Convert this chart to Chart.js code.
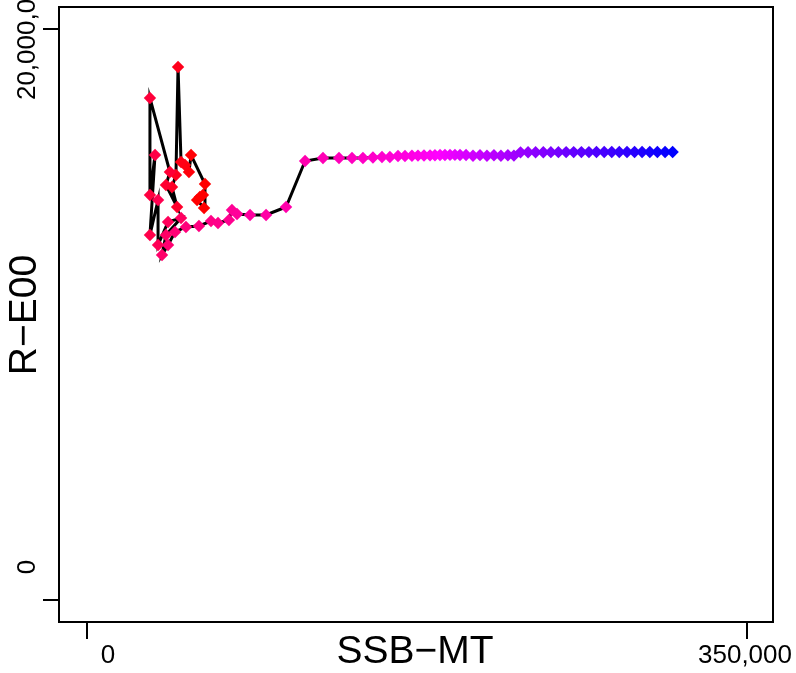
<!DOCTYPE html>
<html>
<head>
<meta charset="utf-8">
<script src="https://cdn.jsdelivr.net/npm/chart.js@4/dist/chart.umd.min.js"></script>
<style>
  html, body { margin: 0; padding: 0; background: #ffffff; }
  #wrap { width: 796px; height: 673px; }
</style>
</head>
<body>
<div id="wrap"><canvas id="srChart" width="796" height="673"></canvas></div>
<script>
// spawning stock biomass (MT) by year, in plotting order
const ssb = [
  59900, 61500, 58400, 62100, 62600, 55200, 54100, 52000, 49900, 48300,
  47200, 45100, 47800, 41900, 44000, 33400, 33400, 36100, 33400, 37700,
  37700, 43000, 49900, 41900, 39800, 43000,
  46700, 52500, 59400, 65800, 69500, 75300, 76900, 79600, 86500, 95000,
  105600,
  115700, 125200, 133700, 140600, 146400, 151700, 156500, 160700, 165000, 168700,
  172400, 175600, 178800, 182000, 184600, 187300, 189900, 192600, 195200, 197900,
  201100, 204800, 208500, 212200, 215900, 219600, 223300, 226500,
  230000, 234000, 238000, 242100, 246100, 250100, 254200, 258200, 262300, 266300,
  270300, 274400, 278400, 282400, 286500, 290500, 294500, 298600, 302600, 306700,
  310700,
];

// recruitment
const rec = [
  14115500, 14185500, 14010400, 13730200, 14570800, 15586600, 14991100, 15236300, 15341400, 18668900,
  14886000, 14465700, 13765200, 14535800, 14991100, 17583000, 14185500, 15586600, 12784500, 14010400,
  12434200, 13239800, 13379900, 12784500, 12084000, 12434200,
  12889600, 13064700, 13099700, 13274900, 13204800, 13309900, 13660100, 13520000, 13485000, 13485000,
  13765200,
  15376400, 15481500, 15481500, 15481500, 15481500, 15500000, 15516500, 15516500, 15551500, 15551500,
  15560000, 15565000, 15570000, 15575000, 15580000, 15585000, 15588000, 15590000, 15590000, 15588000,
  15585000, 15560000, 15582000, 15560000, 15580000, 15562000, 15580000, 15565000,
  15680000, 15682000, 15684000, 15685000, 15686000, 15687000, 15688000, 15688000, 15689000, 15689000,
  15690000, 15690000, 15690000, 15691000, 15691000, 15691000, 15692000, 15692000, 15692000, 15692000,
  15692000,
];

const xTicks = [0, 350000];
const xTickLabels = ["0", "350,000"];
const yTicks = [0, 20000000];
const yTickLabels = ["0", "20,000,000"];

const xTitle = "SSB\u2212MT";
const yTitle = "R\u2212E00";

// red -> magenta -> blue ramp along the years
const redUntil = 4;
const magentaAt = 52;
function rampColor(i, n) {
  let r, b;
  if (i <= redUntil) {
    r = 255;
    b = 0;
  } else if (i <= magentaAt) {
    r = 255;
    b = Math.round(255 * (i - redUntil) / (magentaAt - redUntil));
  } else {
    r = Math.round(255 * (1 - (i - magentaAt) / (n - 1 - magentaAt)));
    b = 255;
  }
  return `rgb(${r},0,${b})`;
}
const pointColors = ssb.map((_v, i) => rampColor(i, ssb.length));

const font = "'Liberation Sans', Arial, Helvetica, sans-serif";

const rAxes = {
  id: "rAxes",
  afterDraw(chart) {
    const { ctx, chartArea: a } = chart;
    const xs = chart.scales.x;
    const ys = chart.scales.y;
    ctx.save();
    ctx.strokeStyle = "#000";
    ctx.fillStyle = "#000";
    ctx.lineWidth = 2;
    ctx.strokeRect(a.left, a.top, a.right - a.left, a.bottom - a.top);

    // x ticks
    ctx.font = `26px ${font}`;
    ctx.textAlign = "center";
    ctx.textBaseline = "middle";
    xTicks.forEach((v, i) => {
      const px = Math.round(xs.getPixelForValue(v));
      ctx.beginPath();
      ctx.moveTo(px, a.bottom);
      ctx.lineTo(px, a.bottom + 17);
      ctx.stroke();
      const shift = i === 0 ? 21 : -2;
      ctx.fillText(xTickLabels[i], px + shift, 656);
    });

    // y ticks
    yTicks.forEach((v, i) => {
      const py = Math.round(ys.getPixelForValue(v));
      ctx.beginPath();
      ctx.moveTo(a.left - 16, py);
      ctx.lineTo(a.left, py);
      ctx.stroke();
      const shift = i === 0 ? -33 : 6;
      ctx.save();
      ctx.translate(28, py + shift);
      ctx.rotate(-Math.PI / 2);
      ctx.fillText(yTickLabels[i], 0, 0);
      ctx.restore();
    });

    // titles
    ctx.font = `39px ${font}`;
    ctx.fillText(xTitle, (a.left + a.right) / 2 - 1, 652);
    ctx.save();
    ctx.translate(25, 315);
    ctx.rotate(-Math.PI / 2);
    ctx.fillText(yTitle, 0, 0);
    ctx.restore();
    ctx.restore();
  },
};

new Chart(document.getElementById("srChart"), {
  type: "scatter",
  data: {
    datasets: [
      {
        data: ssb.map((x, i) => ({ x: x, y: rec[i] })),
        showLine: true,
        borderColor: "#000000",
        borderWidth: 3,
        tension: 0,
        pointStyle: "rectRot",
        pointRadius: 6.2,
        pointBorderWidth: 0,
        pointBackgroundColor: pointColors,
        pointHoverRadius: 6.2,
      },
    ],
  },
  options: {
    responsive: false,
    animation: false,
    layout: {
      padding: { left: 59, top: 7, right: 23, bottom: 51 },
    },
    plugins: {
      legend: { display: false },
      tooltip: { enabled: false },
    },
    scales: {
      x: {
        type: "linear",
        display: false,
        min: -14850,
        max: 363950,
      },
      y: {
        type: "linear",
        display: false,
        min: -770570,
        max: 20770570,
      },
    },
  },
  plugins: [rAxes],
});
</script>
</body>
</html>
